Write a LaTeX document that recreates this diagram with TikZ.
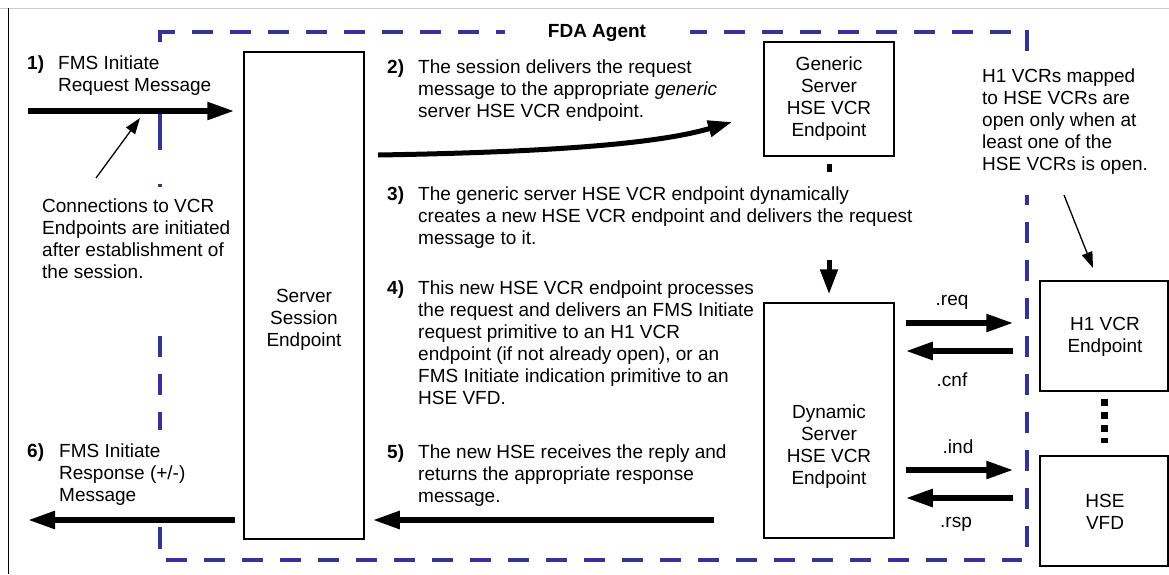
\documentclass[tikz,border=0pt]{standalone}
\usepackage{fontspec}
\setmainfont{Liberation Sans}
\usetikzlibrary{arrows.meta,calc}
\definecolor{agentblue}{RGB}{51,51,153}
\newcommand{\stepno}[1]{\makebox[31pt][l]{\textbf{#1}}}
\newcommand{\hang}{\hspace*{31pt}}

\begin{document}
\begin{tikzpicture}[x=1pt,y=-1pt,
  every node/.style={font=\fontsize{19pt}{22pt}\selectfont},
  agent/.style={draw=agentblue, line width=4.5pt, dash pattern=on 21pt off 17pt},
  agentsolid/.style={draw=agentblue, line width=4.5pt},
  box/.style={draw, line width=1.5pt, inner sep=0pt},
  % multi-line texts are placed by the baseline of their last line
  txt/.style={anchor=base west, inner sep=0pt, align=left},
  lbl/.style={anchor=base, inner sep=0pt, align=center},
  bigarrow/.style={line width=5.5pt, -{Triangle[length=27pt,width=17pt]}},
  thinarrow/.style={line width=1.3pt, -{Triangle[length=16pt,width=11pt]}}]

\useasboundingbox (0,0) rectangle (1169,574);

% page frame
\draw[black!20, line width=1pt] (0,8) -- (1169,8);
\draw[black, line width=1pt] (8,8) -- (8,574);

% FDA Agent boundary
\draw[agent, dash phase=6pt] (160,32) -- (505,32);
\draw[agent, dash phase=4pt] (690,32) -- (1029.25,32);
\draw[agentsolid] (160,29.75) -- (160,42);
\draw[agentsolid] (160,113) -- (160,150);
\draw[agentsolid] (160,184) -- (160,187);
\draw[agent] (160,336) -- (160,430);
\draw[agentsolid] (160,527) -- (160,549);
\draw[agent] (1027,29.75) -- (1027,53);
\draw[agent, dash phase=11pt] (1027,195) -- (1027,560);
\draw[agent] (166,560) -- (1022,560);
\node[lbl, font=\fontsize{19pt}{22pt}\selectfont\bfseries] (fda) at (597,37) {FDA Agent};

% endpoints
\node[box, minimum width=120pt, minimum height=487pt] (sse) at (304,295.5) {};
\node[lbl] (ssel) at (304,346) {Server\\Session\\Endpoint};
\node[box, minimum width=130pt, minimum height=114pt] (gen) at (829,99) {};
\node[lbl] (genl) at (829,136) {Generic\\Server\\HSE VCR\\Endpoint};
\node[box, minimum width=130pt, minimum height=235pt] (dyn) at (829,420.5) {};
\node[lbl] (dynl) at (829,484) {Dynamic\\Server\\HSE VCR\\Endpoint};
\node[box, minimum width=128pt, minimum height=110pt] (h1) at (1104,336) {};
\node[lbl] (h1l) at (1105,352) {H1 VCR\\Endpoint};
\node[box, minimum width=128pt, minimum height=110pt] (vfd) at (1104,511) {};
\node[lbl] (vfdl) at (1105,529) {HSE\\VFD};

% message flow
\coordinate (in1) at (28,111);
\coordinate (out6) at (28,520);
\coordinate (r5) at (0,520);
\draw[bigarrow, shorten >=9pt] (in1) -- (in1 -| sse.west);
\draw[bigarrow, shorten <=8pt] (sse.west |- out6) -- (out6);
\draw[bigarrow, shorten <=49pt, shorten >=8pt] (dyn.west |- r5) -- (sse.east |- r5);

\coordinate (c2a) at (378,155);
\coordinate (c2b) at (732,122);
\draw[line width=5pt, -{Triangle[length=24pt,width=16pt]}] (c2a) .. controls (560,152) and (660,143) .. (c2b);

\draw[line width=5pt] ($(gen.south)+(0,7)$) -- ($(gen.south)+(0,15)$);
\draw[line width=5pt, -{Triangle[length=25pt,width=17pt]}] ($(dyn.north)+(0,-42)$) -- ($(dyn.north)+(0,-8)$);

\coordinate (yreq) at (0,323);
\coordinate (ycnf) at (0,351);
\coordinate (yind) at (0,470);
\coordinate (yrsp) at (0,498);
\draw[bigarrow, shorten <=11pt, shorten >=26pt] (dyn.east |- yreq) -- (h1.west |- yreq);
\draw[bigarrow, shorten <=26pt, shorten >=11pt] (h1.west |- ycnf) -- (dyn.east |- ycnf);
\draw[bigarrow, shorten <=11pt, shorten >=26pt] (dyn.east |- yind) -- (vfd.west |- yind);
\draw[bigarrow, shorten <=26pt, shorten >=11pt] (vfd.west |- yrsp) -- (dyn.east |- yrsp);
\node[lbl] (lreq) at (952,305) {.req};
\node[lbl] (lcnf) at (952,386) {.cnf};
\node[lbl] (lind) at (958,453) {.ind};
\node[lbl] (lrsp) at (956,527) {.rsp};

\draw[line width=7pt, dash pattern=on 7pt off 6pt] ($(h1.south)+(0,7)$) -- ($(vfd.north)+(0,-12)$);

% notes
\coordinate (n1a) at (96,178);
\coordinate (n1b) at (140,118);
\draw[thinarrow] (n1a) -- (n1b);
\coordinate (n2a) at (1064,195);
\coordinate (n2b) at (1093,268);
\draw[thinarrow] (n2a) -- (n2b);

\node[txt] (conn) at (42,278) {Connections to VCR\\Endpoints are initiated\\after establishment of\\the session.};
\node[txt] (h1note) at (982,170) {H1 VCRs mapped\\to HSE VCRs are\\open only when at\\least one of the\\HSE VCRs is open.};

% steps
\node[txt] (s1) at (27,91) {\stepno{1)}FMS Initiate\\\hang Request Message};
\node[txt] (s2) at (387,117) {\stepno{2)}The session delivers the request\\\hang message to the appropriate \textit{generic}\\\hang server HSE VCR endpoint.};
\node[txt] (s3) at (387,244) {\stepno{3)}The generic server HSE VCR endpoint dynamically\\\hang creates a new HSE VCR endpoint and delivers the request\\\hang message to it.};
\node[txt] (s4) at (387,404) {\stepno{4)}This new HSE VCR endpoint processes\\\hang the request and delivers an FMS Initiate\\\hang request primitive to an H1 VCR\\\hang endpoint (if not already open), or an\\\hang FMS Initiate indication primitive to an\\\hang HSE VFD.};
\node[txt] (s5) at (387,502) {\stepno{5)}The new HSE receives the reply and\\\hang returns the appropriate response\\\hang message.};
\node[txt] (s6) at (27,501) {\makebox[32pt][l]{\textbf{6)}}FMS Initiate\\\hspace*{32pt}Response (+/-)\\\hspace*{32pt}Message};
\end{tikzpicture}
\end{document}
